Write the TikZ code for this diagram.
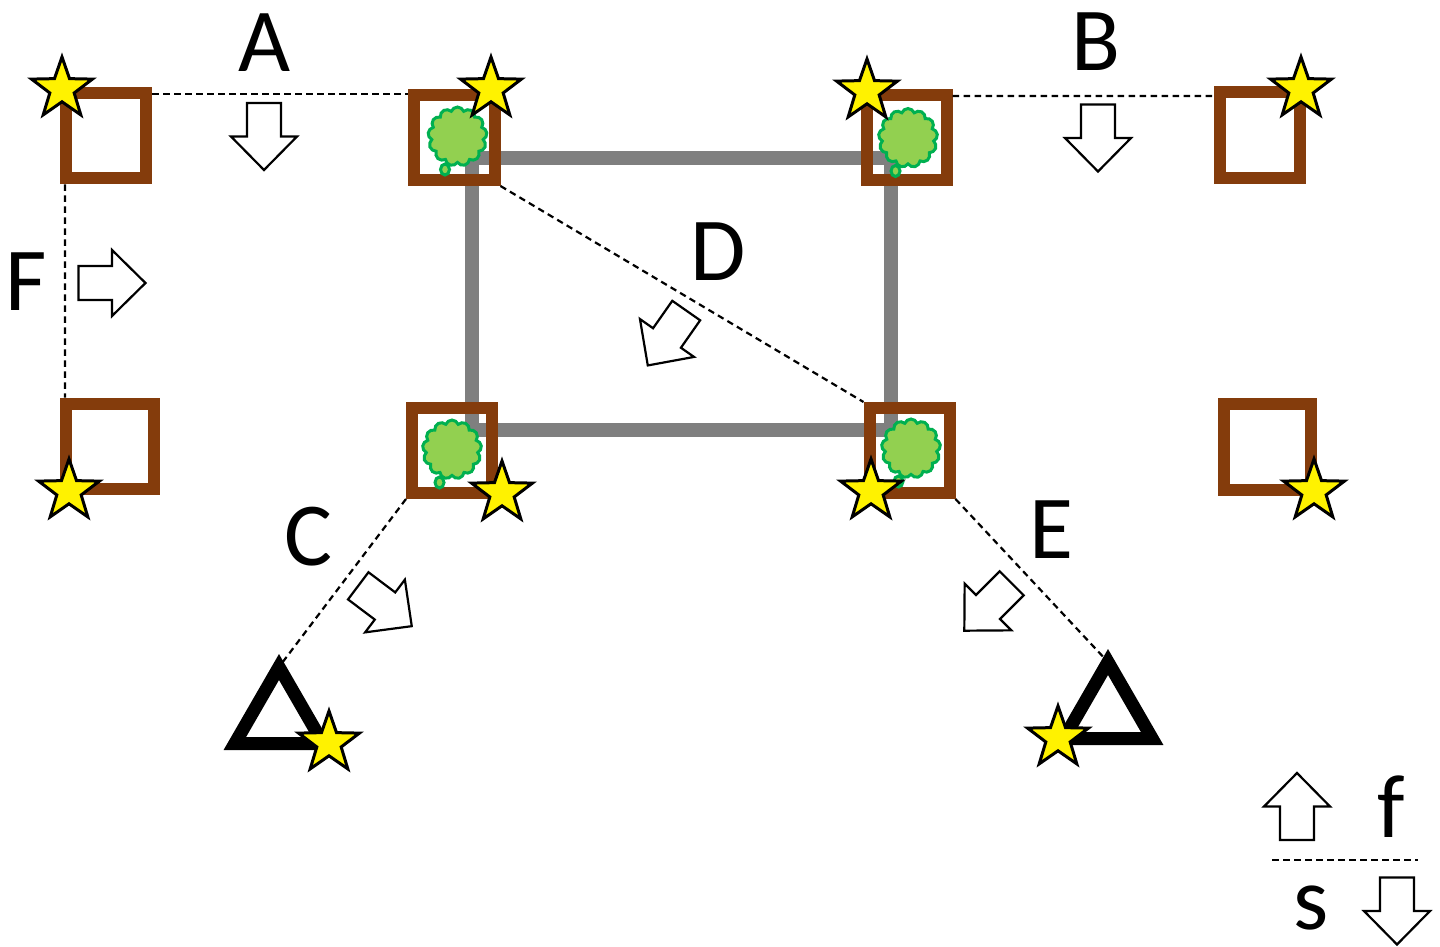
\documentclass[tikz,border=0pt]{standalone}
\usepackage{fontspec}
\setmainfont{Carlito}
\usetikzlibrary{shapes.geometric, shapes.symbols}

\definecolor{boxbrown}{HTML}{843C0C}
\definecolor{framegray}{HTML}{7F7F7F}
\definecolor{leafgreen}{HTML}{92D050}
\definecolor{leafedge}{HTML}{00B050}

\tikzset{
	column/.style = {draw = boxbrown, line width = 0.12 cm, inner sep = 0},
	support/.style = {draw = black, line width = 0.13 cm, regular polygon, regular polygon sides = 3, minimum size = 1.02 cm, inner sep = 0, outer sep = 0},
	starmark/.style = {draw = black, line width = 0.03 cm, fill = yellow, star, star points = 5, star point ratio = 2.5, minimum size = 0.64 cm, inner sep = 0},
	letter/.style = {font = \fontsize{25.6}{28}\selectfont, inner sep = 0},
	guide/.style = {line width = 0.022 cm, dash pattern = on 0.065 cm off 0.045 cm},
	blockarrow/.pic = {
		\draw[line width = 0.022 cm, fill = white, miter limit = 10] (-0.17, 0.335) -- (0.17, 0.335) -- (0.17, 0) -- (0.33, 0) -- (0, -0.335) -- (-0.33, 0) -- (-0.17, 0) -- cycle;
	},
	leafy/.pic = {
		\draw[leafedge, line width = 0.03 cm, fill = leafgreen] (-0.125, -0.33) ellipse (0.045 cm and 0.055 cm);
		\node[cloud, cloud puffs = 13, cloud puff arc = 140, aspect = 1, draw = leafedge, line width = 0.03 cm, fill = leafgreen, minimum size = 0.59 cm, inner sep = 0] (-crown) at (0, 0) {};
	}
}

\begin{document}
\begin{tikzpicture}
	\useasboundingbox (0, 0) rectangle (14.4, 9.46);
	
	\draw[framegray, line width = 0.14 cm] (4.72, 7.88) rectangle (8.91, 5.16);
	
	\foreach \n/\x/\y/\w/\h in {a/1.06/8.10/0.80/0.85, b/4.54/8.085/0.81/0.85, c/9.065/8.085/0.80/0.85, d/12.60/8.11/0.80/0.86, e/1.10/5.00/0.88/0.85, f/4.52/4.955/0.80/0.85, g/9.095/4.955/0.80/0.85, h/12.675/4.99/0.87/0.86}
		\node[column, minimum width = \w cm, minimum height = \h cm] (box\n) at (\x, \y) {};
	
	\node[support] (triangleleft) at (2.79, 2.28) {};
	\node[support] (triangleright) at (11.08, 2.33) {};
	
	\draw[guide] ([yshift = -0.065 cm]boxa.north east) -- ([yshift = -0.05 cm]boxb.north west);
	\draw[guide] ([yshift = -0.07 cm]boxc.north east) -- ([yshift = -0.10 cm]boxd.north west);
	\draw[guide] ([xshift = 0.05 cm]boxa.south west) -- ([xshift = 0.05 cm]boxe.north west);
	\draw[guide] (boxb.south east) -- (boxg.north west);
	\draw[guide] (boxf.south west) -- (triangleleft.corner 1);
	\draw[guide] (boxg.south east) -- (triangleright.corner 1);
	\coordinate (legendleft) at (12.72, 0.86);
	\coordinate (legendright) at (14.18, 0.86);
	\draw[guide] (legendleft) -- (legendright);
	
	\pic (treeb) at (4.575, 8.095) {leafy};
	\pic (treec) at (9.08, 8.08) {leafy};
	\pic (treef) at (4.52, 4.965) {leafy};
	\pic (treeg) at (9.11, 4.975) {leafy};
	
	\foreach \n/\x/\y in {a/0.62/8.57, b/4.91/8.57, c/8.67/8.55, d/13.01/8.57, e/0.69/4.55, f/5.02/4.53, g/8.71/4.55, h/13.14/4.55, i/3.29/2.03, j/10.58/2.08}
		\node[starmark] (star\n) at (\x, \y) {};
	
	\pic at (2.64, 8.095) {blockarrow};
	\pic at (10.98, 8.08) {blockarrow};
	\pic[rotate = 90] at (1.12, 6.63) {blockarrow};
	\pic[rotate = -35] at (6.67, 6.08) {blockarrow};
	\pic[rotate = 53] at (3.85, 3.40) {blockarrow};
	\pic[rotate = -45] at (9.88, 3.39) {blockarrow};
	\pic[rotate = 180] at (12.97, 1.395) {blockarrow};
	\pic at (13.97, 0.35) {blockarrow};
	
	\node[letter] (labela) at (2.65, 9.03) {A};
	\node[letter] (labelb) at (10.96, 9.04) {B};
	\node[letter] (labelc) at (3.08, 4.09) {C};
	\node[letter] (labeld) at (7.18, 6.94) {D};
	\node[letter] (labele) at (10.51, 4.16) {E};
	\node[letter] (labelf) at (0.26, 6.64) {F};
	\node[letter] (labelflow) at (13.91, 1.39) {f};
	\node[letter] (labelslow) at (13.11, 0.38) {s};
\end{tikzpicture}
\end{document}
